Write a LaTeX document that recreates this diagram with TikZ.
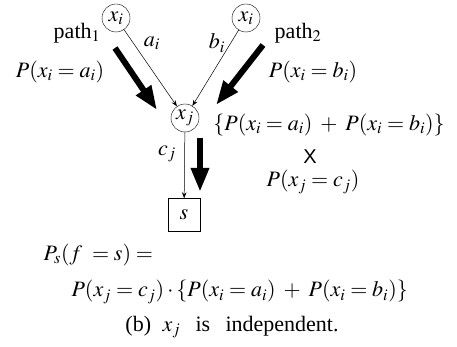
\documentclass[tikz,border=0pt]{standalone}
\usepackage{mathptmx}
\usepackage[no-math]{fontspec}
\setmainfont{Liberation Serif}
\setsansfont{Liberation Sans}
\usepackage{tikz}
\usetikzlibrary{arrows.meta}

\begin{document}
\begin{tikzpicture}[x=1pt,y=-1pt,font=\fontsize{22}{26}\selectfont,
  var/.style={draw,circle,inner sep=0pt,minimum size=28pt},
  thin/.style={-{Stealth[length=6pt,width=4.5pt]},line width=0.5pt},
  fat/.style={-{Triangle[length=24pt,width=17pt]},line width=6pt}]
\useasboundingbox (0,0) rectangle (457,347);
% nodes
\node[var] (xi1) at (116,18) {$x_i$};
\node[var] (xi2) at (246,18) {$x_i$};
\node[var] (xj) at (185,118) {$x_j$};
\node[draw,minimum width=32pt,minimum height=33pt,inner sep=0pt] (s) at (184,215) {$s$};
\draw[thin] (xi1) -- (xj);
\draw[thin] (xi2) -- (xj);
\draw[thin] (xj) -- (s);
% edge labels
\node (p1) at (77,33) {path$_1$};
\node (p2) at (298,33) {path$_2$};
\node (ai) at (152,43) {$a_i$};
\node (bi) at (217,43) {$b_i$};
\node (cj) at (167,154) {$c_j$};
\node (pa) at (60,72) {$P(x_i = a_i)$};
\node (pb) at (313,72) {$P(x_i = b_i)$};
% probability flow
\coordinate (f1s) at (115,48); \coordinate (f1e) at (157,110);
\coordinate (f2s) at (263,45); \coordinate (f2e) at (216,105);
\coordinate (f3s) at (200,138); \coordinate (f3e) at (200,192);
\draw[fat] (f1s) -- (f1e);
\draw[fat] (f2s) -- (f2e);
\draw[fat] (f3s) -- (f3e);
\node (sum) at (329,125) {$\{P(x_i = a_i)\;+\;P(x_i = b_i)\}$};
\node[font=\fontsize{20}{24}\sffamily] (times) at (310,157) {X};
\node (pc) at (313,182) {$P(x_j = c_j)$};
% result
\node[anchor=west] (ps) at (40,255) {$P_s(f\;=s) =$};
\node[anchor=west] (res) at (68,292) {$P(x_j = c_j)\cdot\{P(x_i = a_i)\;+\;P(x_i = b_i)\}$};
\node (cap) at (232,327) {(b)\; $x_j$\;\, is\;\, independent.};
\end{tikzpicture}
\end{document}
